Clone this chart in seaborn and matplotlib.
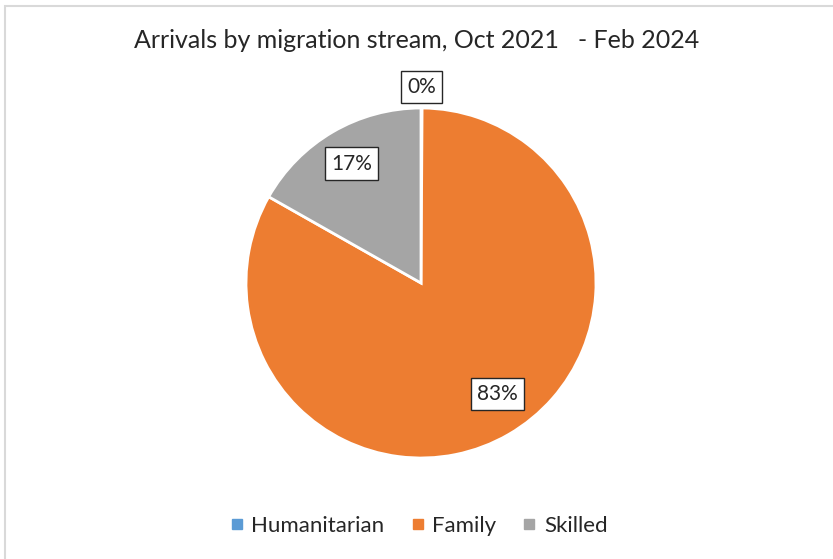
import numpy as np
import matplotlib
matplotlib.use("Agg")
import matplotlib.pyplot as plt
import seaborn as sns
from matplotlib.lines import Line2D

sns.set_theme(style="white")
plt.rcParams['font.family'] = ['Lato', 'DejaVu Sans']

streams = ["Humanitarian", "Family", "Skilled"]
shares = [0.1, 83.1, 16.8]
pct_labels = ["0%", "83%", "17%"]
colors = ["#5B9BD5", "#ED7D31", "#A5A5A5"]

fig = plt.figure(figsize=(8.33, 5.59), dpi=100)
W, H = 833, 559
cx, cy, r = 421, 283, 175
ax = fig.add_axes([(cx - r) / W, (H - cy - r) / H, 2 * r / W, 2 * r / H])

wedges, _ = ax.pie(shares, colors=colors, startangle=90, counterclock=False,
                   wedgeprops=dict(edgecolor="white", linewidth=2), radius=1)
ax.set_xlim(-1, 1)
ax.set_ylim(-1, 1)
ax.set_aspect("equal")

box = dict(boxstyle="square,pad=0.3", facecolor="white", edgecolor="#262626", linewidth=1)
for w, lab in zip(wedges, pct_labels):
    ang = np.deg2rad((w.theta1 + w.theta2) / 2)
    if lab == "0%":
        d = 1.12
    elif lab == "83%":
        ang += np.deg2rad(4.5)
        d = 0.77
    else:
        d = 0.79
    ax.text(d * np.cos(ang), d * np.sin(ang), lab, ha="center", va="center",
            fontsize=15, color="#262626", bbox=box, clip_on=False)

fig.text(0.5, 1 - 40 / H, "Arrivals by migration stream, Oct 2021   - Feb 2024",
         ha="center", va="center", fontsize=18, color="#262626")

handles = [Line2D([], [], marker="s", linestyle="none", markersize=7,
                  markerfacecolor=c, markeredgecolor=c) for c in colors]
fig.legend(handles, streams, loc="center", bbox_to_anchor=(0.5, 1 - 526 / H),
           ncol=3, frameon=False, fontsize=16, handletextpad=0.15, handlelength=1.0,
           columnspacing=1.0, labelcolor="#262626")

fig.patches.append(plt.Rectangle((4.5 / W, -0.1), 1.2, 1 - 6.5 / H + 0.1,
                                 transform=fig.transFigure, fill=False,
                                 edgecolor="#D9D9D9", linewidth=1.5))
fig.savefig("out.png", dpi=100)
